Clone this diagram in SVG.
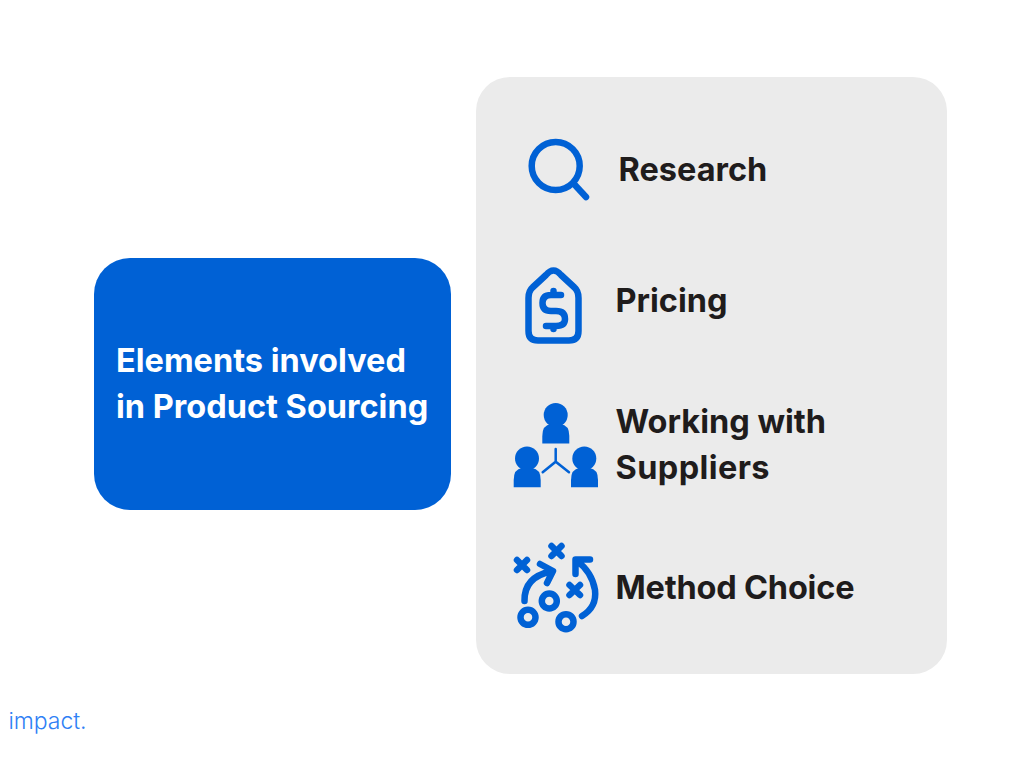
<svg xmlns="http://www.w3.org/2000/svg" width="1024" height="768" viewBox="0 0 1024 768">
<style>
.t{font-family:Inter,"Noto Sans","Liberation Sans",sans-serif;font-weight:700;font-size:32.5px;fill:#1f1c1c}
.w{fill:#fff}
.i{fill:none;stroke:#0061d5;stroke-width:6.5;stroke-linecap:round;stroke-linejoin:round}
.f{fill:#0061d5}
</style>
<rect width="1024" height="768" fill="#fff"/>
<g id="panel"><rect x="476" y="77" width="471" height="597" rx="34" fill="#ebebeb"/></g>
<g id="title"><rect x="94" y="258" width="357" height="252" rx="36" fill="#0061d5"/>
<text class="t w" x="116" y="372">Elements involved</text>
<text class="t w" x="116" y="418">in Product Sourcing</text></g>
<g id="research">
<circle class="i" cx="555.700" cy="166" r="24"/><path class="i" d="M574 184L586 197"/>
<text class="t" x="618.500" y="181">Research</text></g>
<g id="pricing">
<path class="i" d="M528.500 298Q528.500 291 532.500 287.500L546 275Q553.500 266 561 275L574.500 287.500Q578.500 291 578.500 298V331Q578.500 340.500 569 340.500H538Q528.500 340.500 528.500 331Z"/>
<path class="i" d="M561 295H551Q542.500 295 542.500 303Q542.500 311 551 311H556Q565 311 565 319Q565 326 556 326H546M553.500 291V295M553.500 326V329"/>
<text class="t" x="615.500" y="312">Pricing</text></g>
<g id="suppliers">
<g class="f"><circle cx="555.700" cy="415" r="12"/><path d="M542.300 443.500V436Q542.300 425 551 424H560.500Q569.300 425 569.300 436V443.500Z"/>
<circle cx="527" cy="458.500" r="12"/><path d="M513.700 487.300V480Q513.700 469 522 468H532Q540.700 469 540.700 480V487.300Z"/>
<circle cx="584.300" cy="458.500" r="12"/><path d="M571 487.300V480Q571 469 579.500 468H589.500Q598 469 598 480V487.300Z"/></g>
<path d="M555.700 449V461.700M542.700 472.300L555.700 461.700L569 472.300" fill="none" stroke="#0061d5" stroke-width="2.500" stroke-linecap="round"/>
<text class="t" x="615.500" y="433">Working with</text>
<text class="t" x="615.500" y="479" textLength="154">Suppliers</text></g>
<g id="method">
<path class="i" d="M517 560L527 570M527 560L517 570M551.500 546L561.500 556M561.500 546L551.500 556M569.500 585L580 595M580 585L569.500 595"/>
<path class="i" d="M524.500 601Q524 577 551 571.500M540 564L553 571L547 583"/>
<path class="i" d="M582 616Q597 607 595 590Q592 572 577 561M590 559.500H575.500V574"/>
<circle class="i" cx="549.300" cy="601" r="7.500"/><circle class="i" cx="528" cy="617.300" r="7.500"/><circle class="i" cx="566" cy="621.700" r="7.500"/>
<text class="t" x="615.500" y="599" textLength="239">Method Choice</text></g>
<g id="logo"><text x="8.500" y="729" font-family="Inter,'Noto Sans',sans-serif" font-weight="300" font-size="23" fill="#2f80f5" textLength="78">impact.</text></g>
</svg>
